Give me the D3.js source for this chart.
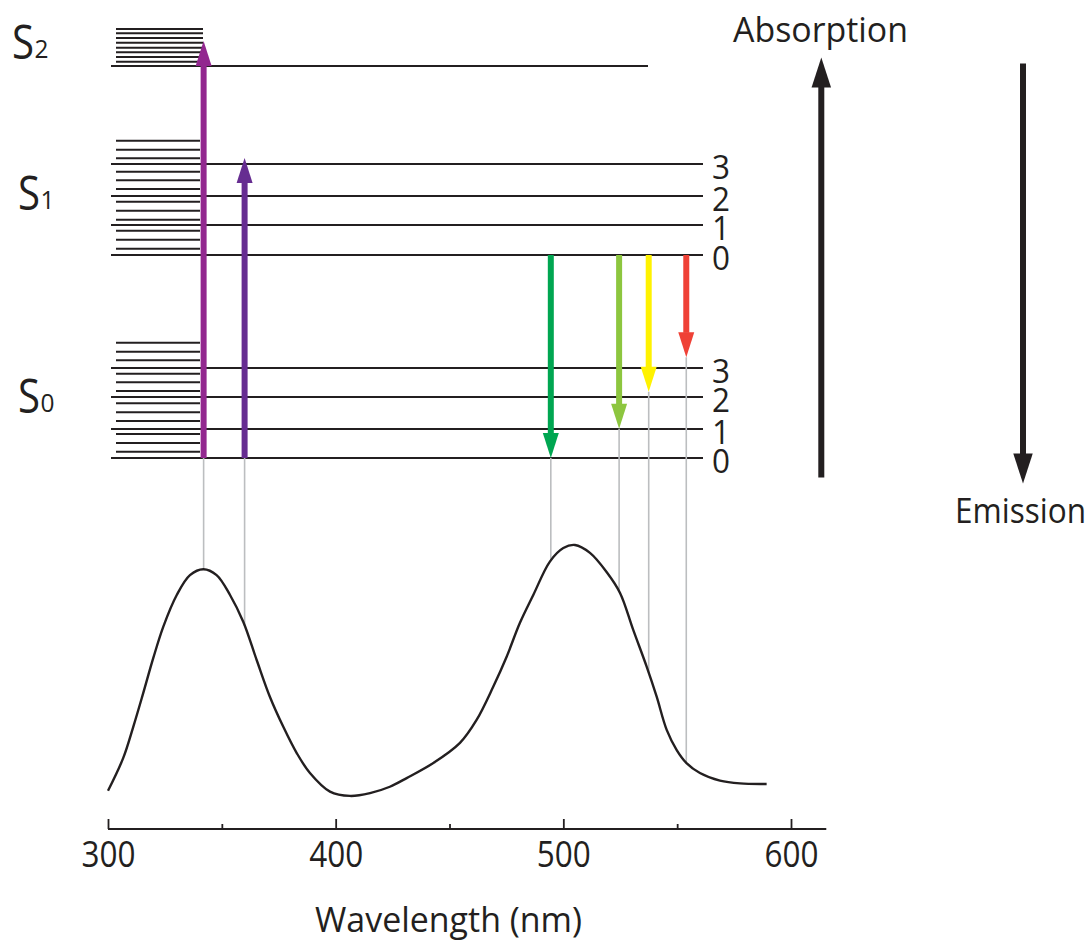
<!DOCTYPE html>
<html>
<head>
<meta charset="utf-8">
<script src="https://cdn.jsdelivr.net/npm/d3@7"></script>
<style>
  html, body { margin: 0; padding: 0; background: #fff; }
  svg { display: block; }
  text { font-family: "Open Sans", "Noto Sans", sans-serif; fill: #231f20; }
</style>
</head>
<body>
<svg id="chart" width="1092" height="941"></svg>
<script>
// ---- data ----------------------------------------------------------
const wavelengthTicks = [300, 400, 500, 600];
const minorTicks = [350, 450, 550];

// absorption / emission spectrum (wavelength in nm, relative intensity)
const spectrumNm = [300, 306.7, 311.1, 315.5, 319.9, 324.3, 330.2, 336, 341.9, 347.7,
  353.6, 359.4, 365.3, 371.1, 377, 382.9, 388.7, 397.5, 406.3, 415.1,
  423.8, 431.2, 442.9, 454.6, 461.9, 469.2, 475.1, 480.9, 486.8, 494.1,
  500, 505.1, 511.7, 519, 524.9, 530.7, 536.6, 541, 545.4, 549.8,
  554.1, 560, 568.8, 577.6, 589.3];
const spectrumIntensity = [0.036, 0.165, 0.287, 0.420, 0.557, 0.680, 0.804, 0.882, 0.905, 0.882,
  0.804, 0.699, 0.549, 0.405, 0.287, 0.184, 0.106, 0.033, 0.016, 0.027,
  0.052, 0.086, 0.145, 0.224, 0.314, 0.444, 0.562, 0.694, 0.804, 0.935,
  0.988, 1.000, 0.969, 0.894, 0.812, 0.667, 0.523, 0.405, 0.275, 0.196,
  0.145, 0.106, 0.076, 0.065, 0.063];

// electronic states: vibrational levels (relative energy) and sublevels
const vibNumbers = [0, 1, 2, 3];
const s0Levels = [0, 29, 61, 90];
const s1Levels = [203, 233, 262, 294];
const s2Levels = [392];
const s0Sublevels = [6.3, 15, 24, 37, 45.7, 54.7, 67, 75.7, 84.3, 97.7, 106.3, 115.3];
const s1Sublevels = [209.3, 218.3, 227.3, 238.3, 247.3, 256.3, 269, 277.7, 286.3, 299.7, 308.3, 317.3];
const s2Sublevels = [396.3, 401, 405.7, 410.3, 415.3, 420, 424.7, 429];
const stateNames = ["0", "1", "2"];
const stateLabelEnergy = [45, 248, 399];

// transitions: wavelength, start / end energy, colour
const transitionNm = [342, 360, 494.5, 524.5, 537.5, 554];
const transitionFrom = [0, 0, 203, 203, 203, 203];
const transitionTo = [417, 300, 0, 29.3, 66.3, 100.7];
const transitionColors = ["#92278f", "#662d91", "#00a651", "#8dc63f", "#fff200", "#ef4136"];

// ---- scales --------------------------------------------------------
const svg = d3.select("#chart");
const ink = "#231f20";
const x = d3.scaleLinear().domain([300, 600]).range([108, 791]);
const yE = d3.scaleLinear().domain([0, 392]).range([458, 66]);
const yS = d3.scaleLinear().domain([0, 1]).range([800, 545]);

const levelX0 = 111, levelX1 = 703, s2LevelX1 = 648;
const subX0 = 116, subX1 = 200, s2SubX1 = 203;

function textFit(sel, len) {
  sel.attr("textLength", len).attr("lengthAdjust", "spacingAndGlyphs");
}

// ---- energy levels -------------------------------------------------
const levels = svg.append("g");
function sublevels(vals, x1) {
  levels.selectAll(null).data(vals).enter().append("line")
    .attr("x1", subX0).attr("x2", x1)
    .attr("y1", d => yE(d)).attr("y2", d => yE(d))
    .attr("stroke", ink).attr("stroke-width", 2);
}
sublevels(s0Sublevels, subX1);
sublevels(s1Sublevels, subX1);
sublevels(s2Sublevels, s2SubX1);

function mainLevels(vals, x1, numbered) {
  levels.selectAll(null).data(vals).enter().append("line")
    .attr("x1", levelX0).attr("x2", x1)
    .attr("y1", d => yE(d)).attr("y2", d => yE(d))
    .attr("stroke", ink).attr("stroke-width", 2);
  if (numbered) {
    levels.selectAll(null).data(vals).enter().append("text")
      .attr("x", 712).attr("y", d => yE(d) + 14.5)
      .attr("font-size", 32)
      .text((d, i) => vibNumbers[i])
      .call(textFit, 18);
  }
}
mainLevels(s0Levels, levelX1, true);
mainLevels(s1Levels, levelX1, true);
mainLevels(s2Levels, s2LevelX1, false);

// state labels S0, S1, S2
const labelX = [18, 18, 12];
stateNames.forEach((n, i) => {
  const base = yE(stateLabelEnergy[i]);
  svg.append("text").attr("x", labelX[i]).attr("y", base)
    .attr("font-size", 47).text("S").call(textFit, 22);
  svg.append("text").attr("x", labelX[i] + 22.5).attr("y", base - 1)
    .attr("font-size", 25).text(n).call(textFit, 14);
});

// ---- spectrum ------------------------------------------------------
const spectrum = spectrumNm.map((d, i) => [d, spectrumIntensity[i]]);
const bis = d3.bisector(d => d[0]).left;
function intensityAt(nm) {
  const i = Math.max(1, Math.min(spectrum.length - 1, bis(spectrum, nm)));
  const a = spectrum[i - 1], b = spectrum[i];
  const t = (nm - a[0]) / (b[0] - a[0]);
  return a[1] + t * (b[1] - a[1]);
}

// guide lines from each transition down to the spectrum
svg.append("g").selectAll("line").data(transitionNm).enter().append("line")
  .attr("x1", d => x(d)).attr("x2", d => x(d))
  .attr("y1", (d, i) => yE(Math.min(transitionFrom[i], transitionTo[i])))
  .attr("y2", d => yS(intensityAt(d)))
  .attr("stroke", "#bcbec0").attr("stroke-width", 1.6);

svg.append("path")
  .datum(spectrum)
  .attr("fill", "none").attr("stroke", ink).attr("stroke-width", 2.4)
  .attr("d", d3.line().x(d => x(d[0])).y(d => yS(d[1])).curve(d3.curveCatmullRom.alpha(0.5)));

// ---- arrows --------------------------------------------------------
function arrow(g, cx, y0, y1, color, shaftW, headW, headL) {
  const dir = y1 < y0 ? -1 : 1;
  const base = y1 - dir * headL;
  g.append("line").attr("x1", cx).attr("x2", cx).attr("y1", y0).attr("y2", base + dir * 0.5)
    .attr("stroke", color).attr("stroke-width", shaftW);
  g.append("path")
    .attr("d", `M${cx - headW / 2},${base}L${cx + headW / 2},${base}L${cx},${y1}Z`)
    .attr("fill", color);
}

const arrows = svg.append("g");
transitionNm.forEach((nm, i) => {
  arrow(arrows, x(nm), yE(transitionFrom[i]), yE(transitionTo[i]),
    transitionColors[i], 6, 16, 25);
});

// absorption / emission key
arrow(svg, 821.3, 477.5, 57.5, ink, 6, 19.5, 30);
arrow(svg, 1023, 63.5, 483.5, ink, 6, 19.5, 30);
svg.append("text").attr("x", 733).attr("y", 42).attr("font-size", 35)
  .text("Absorption").call(textFit, 175);
svg.append("text").attr("x", 1086).attr("y", 523).attr("font-size", 34)
  .attr("text-anchor", "end")
  .text("Emission").call(textFit, 131);

// ---- wavelength axis -----------------------------------------------
const axisY = 829;
const axisG = svg.append("g").attr("transform", `translate(0,${axisY})`);
axisG.call(d3.axisBottom(x).tickValues(wavelengthTicks).tickSize(-10).tickFormat(d3.format("d")));
axisG.select(".domain").remove();
axisG.selectAll(".tick line").attr("stroke", ink).attr("stroke-width", 1.8);
axisG.selectAll(".tick text")
  .attr("y", 38).attr("dy", null)
  .attr("font-size", 36).attr("font-family", "'Open Sans', sans-serif")
  .attr("fill", ink)
  .call(textFit, 54);

const minorG = svg.append("g").attr("transform", `translate(0,${axisY})`);
minorG.call(d3.axisBottom(x).tickValues(minorTicks).tickSize(-5).tickFormat(""));
minorG.select(".domain").remove();
minorG.selectAll(".tick line").attr("stroke", ink).attr("stroke-width", 1.8);

svg.append("line")
  .attr("x1", x(300)).attr("x2", x(615.5))
  .attr("y1", axisY).attr("y2", axisY)
  .attr("stroke", ink).attr("stroke-width", 2.2);

svg.append("text").attr("x", 315).attr("y", 932).attr("font-size", 34)
  .text("Wavelength (nm)").call(textFit, 267);
</script>
</body>
</html>
